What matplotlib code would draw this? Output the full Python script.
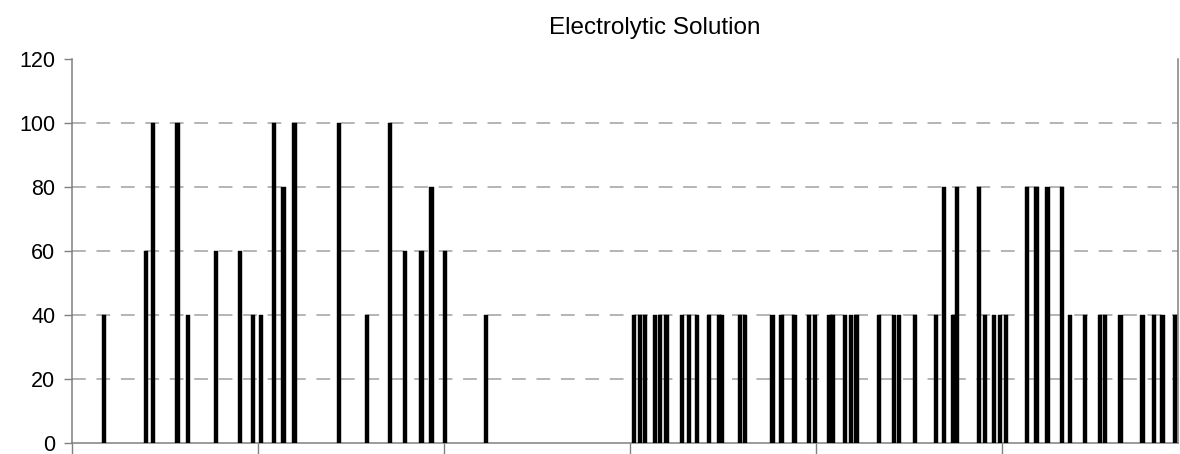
"""Electrolytic Solution - sparse bar series on a day axis."""
import matplotlib
matplotlib.use("Agg")
import matplotlib.pyplot as plt
import numpy as np

plt.rcParams["font.family"] = ["Liberation Sans", "DejaVu Sans"]

# day index of each reading, and the reading itself
days = [
    10.4, 23.9, 26.2, 34.0, 37.5, 46.4, 54.2, 58.3, 60.9, 65.2,
    68.2, 71.8, 86.2, 95.1, 102.6, 107.4, 112.8, 116.0, 120.3, 133.5,
    181.4, 183.2, 184.8, 188.1, 189.7, 191.8, 196.7, 199.1, 201.7, 205.6,
    208.7, 209.7, 215.5, 217.1, 226.0, 228.9, 233.1, 237.7, 239.7, 244.4,
    245.6, 249.4, 251.3, 253.1, 260.4, 265.2, 266.8, 271.9, 278.7, 281.4,
    284.2, 285.4, 292.7, 294.5, 297.5, 299.4, 301.3, 308.0, 311.2, 314.7,
    319.3, 321.9, 326.8, 331.6, 333.2, 338.3, 345.3, 349.0, 351.8, 355.8,
]
values = [
    40, 60, 100, 100, 40, 60, 60, 40, 40, 100,
    80, 100, 100, 40, 100, 60, 60, 80, 60, 40,
    40, 40, 40, 40, 40, 40, 40, 40, 40, 40,
    40, 40, 40, 40, 40, 40, 40, 40, 40, 40,
    40, 40, 40, 40, 40, 40, 40, 40, 40, 80,
    40, 80, 80, 40, 40, 40, 40, 80, 80, 80,
    80, 40, 40, 40, 40, 40, 40, 40, 40, 40,
]
x_ticks = [0, 60, 120, 180, 240, 300]
y_ticks = [0, 20, 40, 60, 80, 100, 120]
title = "Electrolytic Solution"

fig = plt.figure(figsize=(11.8, 4.54), dpi=100)
ax = fig.add_axes([72 / 1180, 11 / 454, 1106 / 1180, 384 / 454])

for y in y_ticks[1:-1]:
    ax.axhline(y, color="#a0a0a0", lw=1.1, ls=(0, (9, 7)), zorder=0)

ax.bar(days, values, width=1.4, color="black", edgecolor="black",
       linewidth=0.3, zorder=3)

ax.set_xlim(0, 356.8)
ax.set_ylim(0, 120)
ax.set_xticks(x_ticks)
ax.set_xticklabels([])
ax.set_yticks(y_ticks)
ax.tick_params(axis="y", labelsize=15.5, length=6, width=1, color="#808080", pad=6)
ax.tick_params(axis="x", length=9, width=1, color="#808080")

for side in ("left", "bottom", "right"):
    ax.spines[side].set_color("#808080")
    ax.spines[side].set_linewidth(1.1)
ax.spines["top"].set_visible(False)

fig.text(655 / 1180, 1 - 28 / 454, title, ha="center", va="center", fontsize=17.5)

fig.savefig("out.png", dpi=100)
